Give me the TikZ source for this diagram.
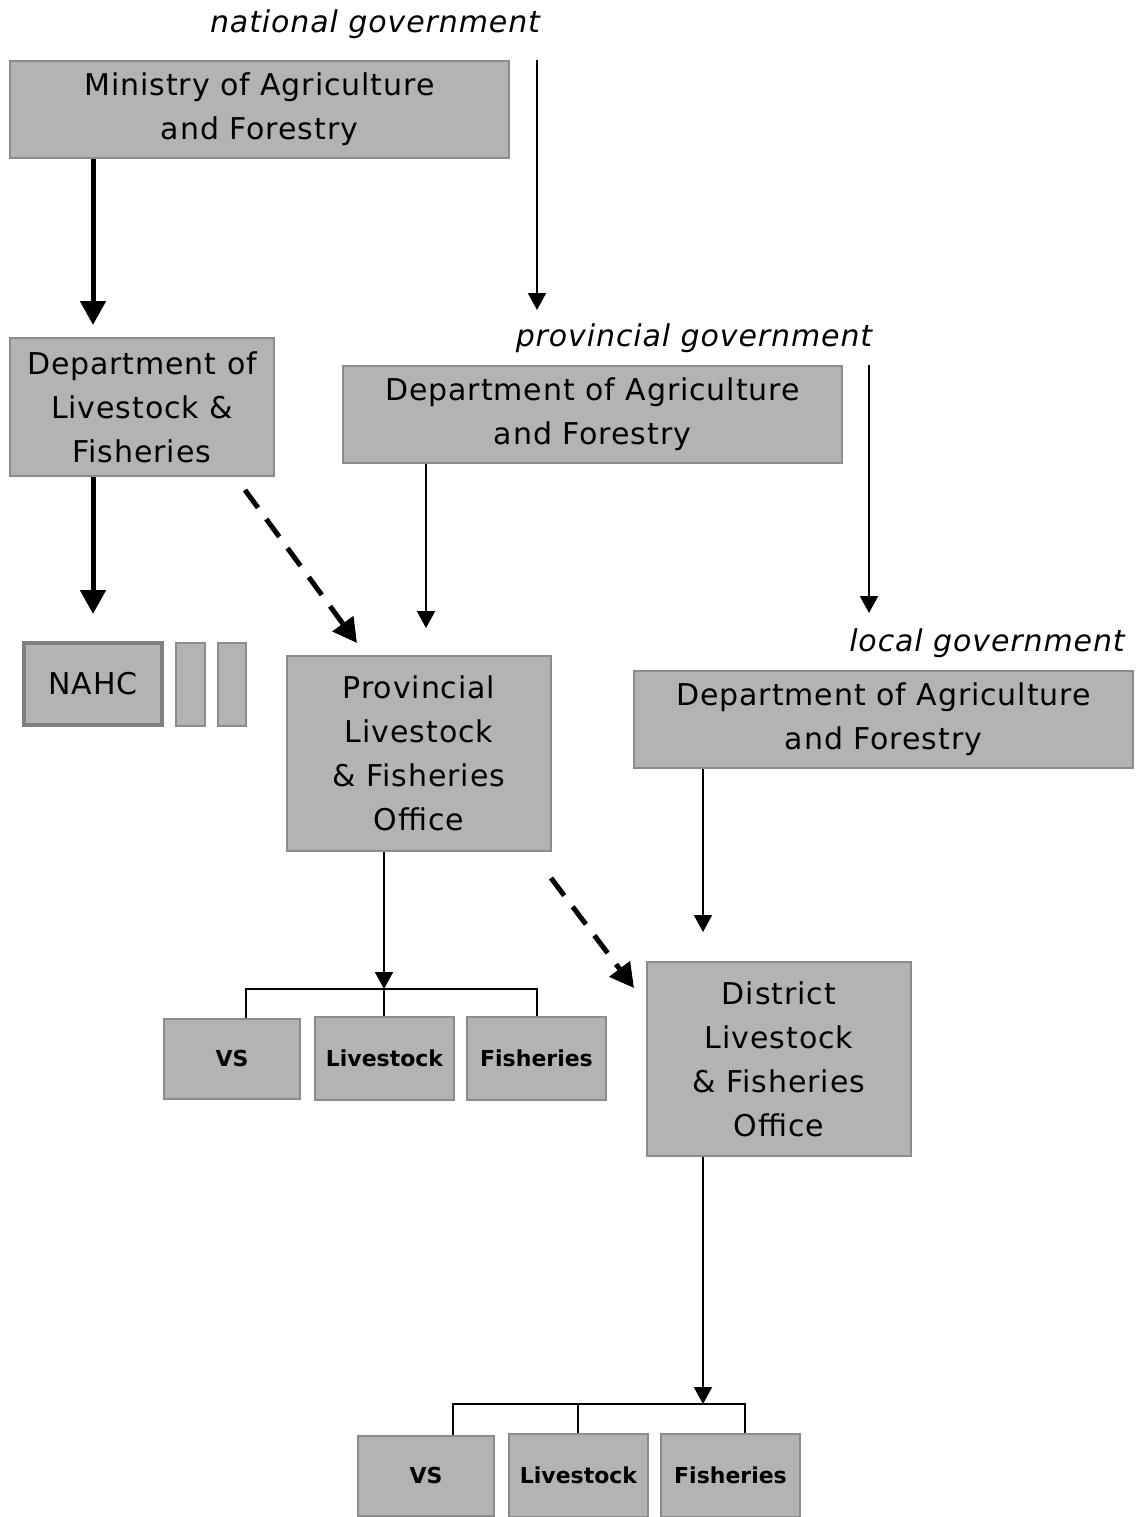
\documentclass[tikz,border=0pt]{standalone}
\usepackage{fontspec}
\setmainfont{DejaVu Sans}[LetterSpace=3]
\usetikzlibrary{arrows.meta}
\definecolor{boxgray}{HTML}{B3B3B3}
\definecolor{edgegray}{HTML}{8C8C8C}
\begin{document}
\begin{tikzpicture}[x=0.5pt, y=-0.5pt, line join=miter,
    font=\fontsize{15}{22}\selectfont,
    box/.style={draw=edgegray, fill=boxgray, line width=1pt, inner sep=0pt, align=center},
    heavybox/.style={box, draw=gray, line width=2.4pt},
    unitbox/.style={box, font=\addfontfeature{LetterSpace=0}\bfseries\fontsize{11}{13}\selectfont},
    level/.style={font=\itshape\fontsize{15}{22}\selectfont},
    thinarrow/.style={line width=1pt, -{Triangle[width=9pt, length=8.5pt]}},
    heavyarrow/.style={line width=2.5pt, -{Triangle[width=12.5pt, length=12pt]}},
    dasharrow/.style={heavyarrow, dash pattern=on 11pt off 7pt},
    branch/.style={line width=0.8pt}]
  \useasboundingbox (0,0) rectangle (1146,1517);
  % Ebenen
  \node[level] (natl) at (375,24) {national government};
  \node[level] (prov) at (694,338) {provincial government};
  \node[level] (locl) at (987,643) {local government};
  % Kaesten
  \node[box, minimum width=249.5pt, minimum height=48.5pt] (MAF) at (259.5,109.5) {Ministry of Agriculture\\ and Forestry};
  \node[box, minimum width=132pt, minimum height=69pt] (DLF) at (142,407) {Department of\\ Livestock \&\\ Fisheries};
  \node[box, minimum width=249.5pt, minimum height=48.5pt] (PDAF) at (592.5,414.5) {Department of Agriculture\\ and Forestry};
  \node[box, minimum width=249.5pt, minimum height=48.5pt] (LDAF) at (883.5,719.5) {Department of Agriculture\\ and Forestry};
  \node[heavybox, minimum width=69pt, minimum height=41pt] (NAHC) at (93,684) {NAHC};
  \node[box, minimum width=14.5pt, minimum height=41.5pt] (S1) at (190.5,684.5) {};
  \node[box, minimum width=14pt, minimum height=41.5pt] (S2) at (232,684.5) {};
  \node[box, minimum width=132pt, minimum height=97.5pt] (POff) at (419,753.5) {Provincial\\ Livestock\\ \& Fisheries\\ Office};
  \node[box, minimum width=132pt, minimum height=97pt] (DOff) at (779,1059) {District\\ Livestock\\ \& Fisheries\\ Office};
  \node[heavybox, unitbox, minimum width=68pt, minimum height=40pt] (VS1) at (232,1058.5) {VS};
  \node[unitbox, minimum width=69.5pt, minimum height=41.5pt] (LV1) at (384.5,1058.5) {Livestock};
  \node[unitbox, minimum width=69.5pt, minimum height=41.5pt] (FI1) at (536.5,1058.5) {Fisheries};
  \node[heavybox, unitbox, minimum width=68pt, minimum height=40pt] (VS2) at (426,1475.5) {VS};
  \node[unitbox, minimum width=69.5pt, minimum height=41.5pt] (LV2) at (578.5,1475.5) {Livestock};
  \node[unitbox, minimum width=69.5pt, minimum height=41.5pt] (FI2) at (730.5,1475.5) {Fisheries};
  % freie Enden
  \coordinate (n0) at (537,60);
  \coordinate (n1) at (537,310);
  \coordinate (p0) at (869,365);
  \coordinate (p1) at (869,613);
  \coordinate (d1) at (93,325);
  \coordinate (d2) at (93,614);
  \coordinate (q0) at (245,490);
  \coordinate (q1) at (357,643);
  \coordinate (q2) at (426,628);
  \coordinate (r0) at (551,878);
  \coordinate (r1) at (634,988);
  \coordinate (r2) at (703,932);
  \coordinate (b1) at (384,989);
  \coordinate (b2) at (703,1404);
  % Pfeile
  \draw[thinarrow] (n0) -- (n1);
  \draw[thinarrow] (p0) -- (p1);
  \draw[heavyarrow] (MAF.south -| d1) -- (d1);
  \draw[heavyarrow] (DLF.south -| d2) -- (d2);
  \draw[dasharrow] (q0) -- (q1);
  \draw[thinarrow] (PDAF.south -| q2) -- (q2);
  \draw[thinarrow] (POff.south -| b1) -- (b1);
  \draw[dasharrow] (r0) -- (r1);
  \draw[thinarrow] (LDAF.south -| r2) -- (r2);
  \draw[thinarrow] (DOff.south -| b2) -- (b2);
  % Verzweigungen
  \draw[branch] (VS1.north -| 246,0) |- (b1) -| (FI1.north -| 537,0);
  \draw[branch] (b1) -- (LV1.north -| b1);
  \draw[branch] (VS2.north -| 453,0) |- (b2) -| (FI2.north -| 745,0);
  \draw[branch] (LV2.north -| 578,0) -- ++(0,-30);
\end{tikzpicture}
\end{document}
